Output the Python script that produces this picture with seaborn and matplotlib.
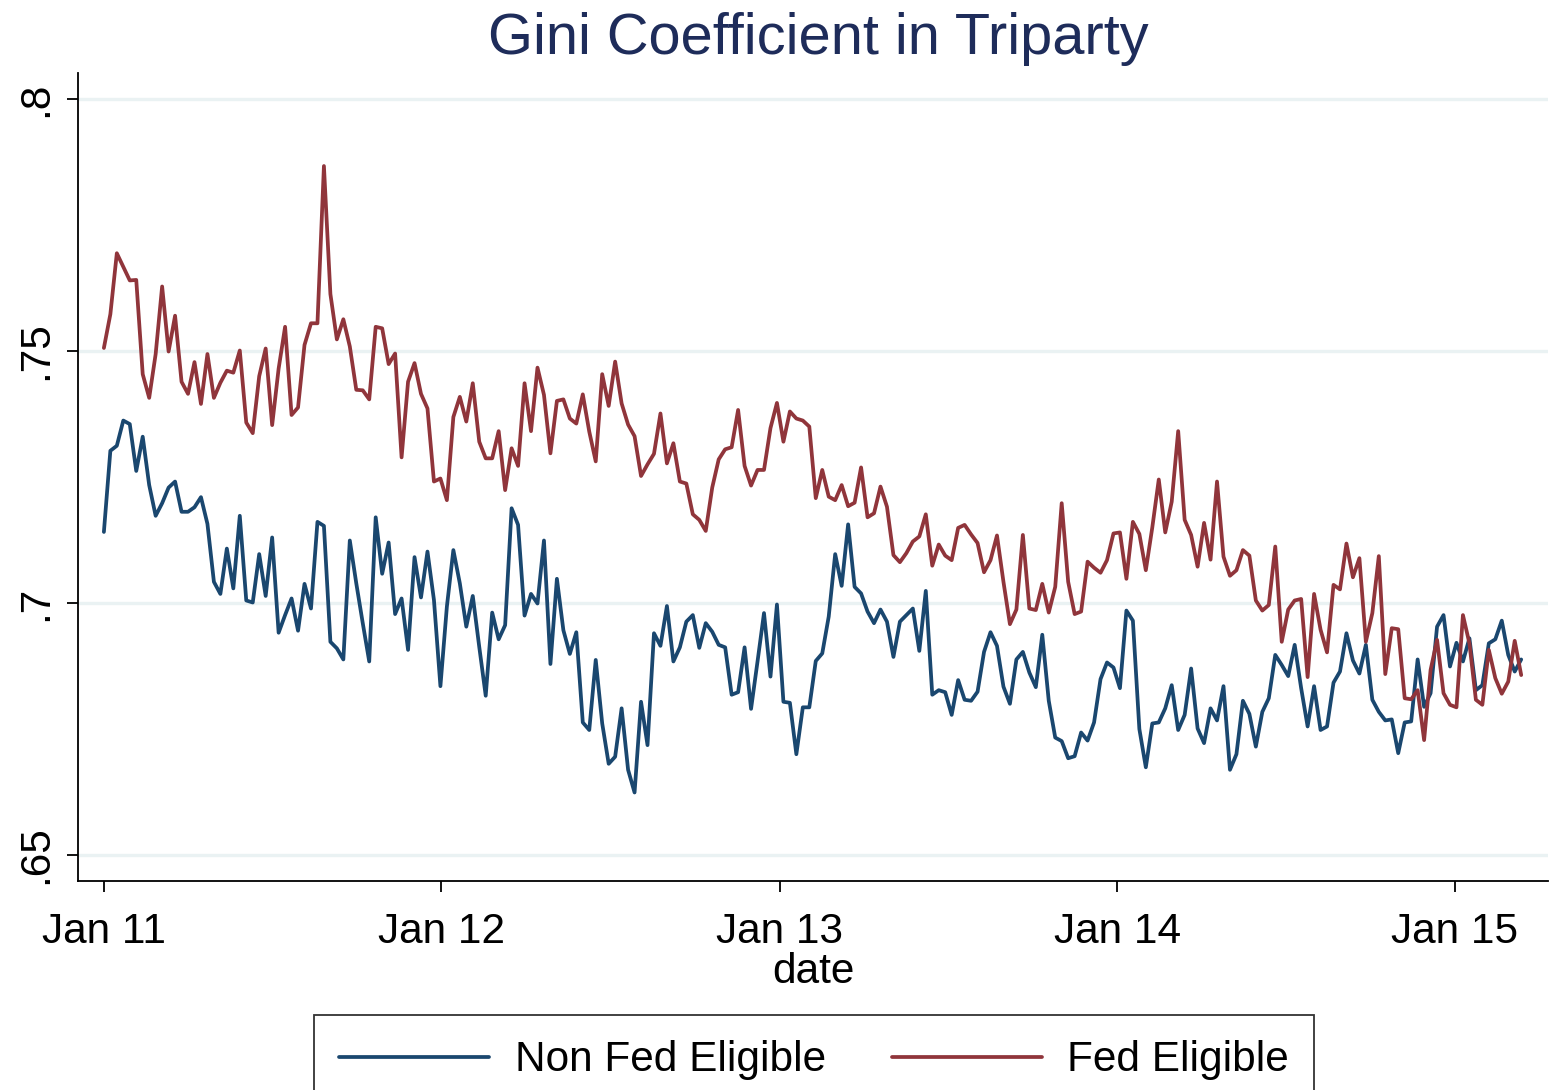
import numpy as np
import pandas as pd
import matplotlib
matplotlib.use("Agg")
import matplotlib.pyplot as plt
import matplotlib.dates as mdates
import seaborn as sns

# Weekly Gini coefficients
non_fed = [
    0.7141, 0.7302, 0.7312, 0.7362, 0.7355, 0.7262, 0.7330, 0.7234, 0.7173, 0.7198,
    0.7229, 0.7241, 0.7181, 0.7181, 0.7190, 0.7210, 0.7157, 0.7042, 0.7018, 0.7108,
    0.7029, 0.7173, 0.7005, 0.7001, 0.7097, 0.7014, 0.7130, 0.6941, 0.6976, 0.7009,
    0.6945, 0.7038, 0.6989, 0.7161, 0.7153, 0.6923, 0.6910, 0.6888, 0.7124, 0.7039,
    0.6960, 0.6884, 0.7170, 0.7058, 0.7120, 0.6978, 0.7009, 0.6907, 0.7091, 0.7011,
    0.7102, 0.7006, 0.6835, 0.6993, 0.7105, 0.7039, 0.6953, 0.7014, 0.6913, 0.6816,
    0.6981, 0.6928, 0.6956, 0.7188, 0.7155, 0.6975, 0.7018, 0.6999, 0.7124, 0.6879,
    0.7048, 0.6946, 0.6899, 0.6942, 0.6763, 0.6748, 0.6887, 0.6761, 0.6681, 0.6695,
    0.6791, 0.6669, 0.6624, 0.6804, 0.6718, 0.6940, 0.6915, 0.6994, 0.6884, 0.6912,
    0.6963, 0.6976, 0.6911, 0.6960, 0.6943, 0.6917, 0.6912, 0.6818, 0.6823, 0.6912,
    0.6790, 0.6884, 0.6980, 0.6854, 0.6997, 0.6804, 0.6802, 0.6700, 0.6793, 0.6793,
    0.6885, 0.6900, 0.6973, 0.7097, 0.7034, 0.7156, 0.7032, 0.7019, 0.6983, 0.6960,
    0.6987, 0.6963, 0.6893, 0.6963, 0.6976, 0.6989, 0.6905, 0.7024, 0.6818, 0.6827,
    0.6823, 0.6778, 0.6847, 0.6808, 0.6806, 0.6824, 0.6903, 0.6942, 0.6915, 0.6834,
    0.6800, 0.6888, 0.6903, 0.6862, 0.6833, 0.6937, 0.6806, 0.6733, 0.6726, 0.6692,
    0.6696, 0.6743, 0.6727, 0.6763, 0.6849, 0.6882, 0.6872, 0.6831, 0.6985, 0.6965,
    0.6750, 0.6674, 0.6761, 0.6763, 0.6791, 0.6837, 0.6748, 0.6778, 0.6870, 0.6751,
    0.6722, 0.6791, 0.6767, 0.6835, 0.6669, 0.6700, 0.6806, 0.6780, 0.6715, 0.6784,
    0.6811, 0.6897, 0.6877, 0.6855, 0.6917, 0.6831, 0.6755, 0.6835, 0.6748, 0.6755,
    0.6842, 0.6864, 0.6940, 0.6886, 0.6860, 0.6917, 0.6808, 0.6784, 0.6767, 0.6769,
    0.6702, 0.6763, 0.6765, 0.6888, 0.6794, 0.6821, 0.6953, 0.6976, 0.6874, 0.6921,
    0.6884, 0.6930, 0.6827, 0.6837, 0.6920, 0.6928, 0.6965, 0.6897, 0.6864, 0.6888,
]

fed = [
    0.7506, 0.7573, 0.7694, 0.7667, 0.7640, 0.7641, 0.7454, 0.7407, 0.7494, 0.7628,
    0.7499, 0.7570, 0.7439, 0.7415, 0.7478, 0.7395, 0.7494, 0.7407, 0.7437, 0.7461,
    0.7457, 0.7501, 0.7358, 0.7337, 0.7450, 0.7505, 0.7353, 0.7465, 0.7548, 0.7373,
    0.7388, 0.7512, 0.7555, 0.7555, 0.7867, 0.7613, 0.7523, 0.7563, 0.7509, 0.7423,
    0.7422, 0.7404, 0.7548, 0.7545, 0.7474, 0.7495, 0.7289, 0.7439, 0.7476, 0.7415,
    0.7386, 0.7241, 0.7247, 0.7204, 0.7369, 0.7409, 0.7360, 0.7436, 0.7320, 0.7287,
    0.7287, 0.7341, 0.7224, 0.7307, 0.7272, 0.7436, 0.7341, 0.7467, 0.7413, 0.7297,
    0.7401, 0.7404, 0.7366, 0.7356, 0.7414, 0.7340, 0.7281, 0.7454, 0.7391, 0.7479,
    0.7396, 0.7354, 0.7331, 0.7252, 0.7275, 0.7296, 0.7376, 0.7277, 0.7317, 0.7241,
    0.7237, 0.7176, 0.7165, 0.7143, 0.7229, 0.7285, 0.7305, 0.7309, 0.7383, 0.7272,
    0.7233, 0.7264, 0.7264, 0.7347, 0.7397, 0.7320, 0.7380, 0.7366, 0.7362, 0.7350,
    0.7208, 0.7264, 0.7211, 0.7204, 0.7234, 0.7192, 0.7199, 0.7269, 0.7170, 0.7178,
    0.7231, 0.7191, 0.7095, 0.7081, 0.7099, 0.7122, 0.7132, 0.7176, 0.7074, 0.7116,
    0.7094, 0.7085, 0.7149, 0.7155, 0.7136, 0.7119, 0.7061, 0.7085, 0.7134, 0.7042,
    0.6958, 0.6987, 0.7135, 0.6989, 0.6986, 0.7038, 0.6981, 0.7032, 0.7198, 0.7042,
    0.6978, 0.6983, 0.7082, 0.7070, 0.7060, 0.7085, 0.7138, 0.7140, 0.7048, 0.7161,
    0.7137, 0.7065, 0.7150, 0.7245, 0.7140, 0.7201, 0.7341, 0.7165, 0.7135, 0.7072,
    0.7159, 0.7086, 0.7241, 0.7092, 0.7054, 0.7065, 0.7105, 0.7094, 0.7005, 0.6985,
    0.6996, 0.7112, 0.6923, 0.6987, 0.7005, 0.7008, 0.6853, 0.7018, 0.6947, 0.6902,
    0.7036, 0.7027, 0.7118, 0.7051, 0.7089, 0.6923, 0.6980, 0.7093, 0.6859, 0.6950,
    0.6948, 0.6811, 0.6809, 0.6827, 0.6728, 0.6867, 0.6927, 0.6821, 0.6798, 0.6793,
    0.6976, 0.6920, 0.6808, 0.6798, 0.6907, 0.6851, 0.6820, 0.6844, 0.6925, 0.6857,
]

dates = pd.date_range("2011-01-01", periods=len(fed), freq="7D")
series_names = ["Non Fed Eligible", "Fed Eligible"]
y_ticks = [0.65, 0.70, 0.75, 0.80]
y_tick_labels = [".65", ".7", ".75", ".8"]
x_ticks = pd.to_datetime(["2011-01-01", "2012-01-01", "2013-01-01", "2014-01-01", "2015-01-01"])

df = pd.DataFrame({
    "date": np.concatenate([dates, dates]),
    "gini": non_fed + fed,
    "series": [series_names[0]] * len(non_fed) + [series_names[1]] * len(fed),
})

sns.set_style("white")
plt.rcParams["font.family"] = ["Liberation Sans", "DejaVu Sans"]
plt.rcParams["text.color"] = "black"

fig = plt.figure(figsize=(15.49, 10.90), dpi=100)
ax = fig.add_axes([78 / 1549, 1 - 881 / 1090, (1548 - 78) / 1549, (881 - 73) / 1090])

palette = {"Non Fed Eligible": "#1a476f", "Fed Eligible": "#90353b"}
sns.lineplot(data=df, x="date", y="gini", hue="series", palette=palette,
             linewidth=2.7, ax=ax, legend=False)

# Stata-like frame: left/bottom axes only, light grid on y
for s in ["top", "right"]:
    ax.spines[s].set_visible(False)
for s in ["left", "bottom"]:
    ax.spines[s].set_color("black")
    ax.spines[s].set_linewidth(1.3)

ax.set_ylim(0.65 - 26 / 5040, 0.80 + 26 / 5040)
ax.set_xlim(pd.Timestamp("2011-01-01") - pd.Timedelta(days=28),
            pd.Timestamp("2011-01-01") + pd.Timedelta(days=1562))

ax.set_yticks(y_ticks)
ax.set_yticklabels(y_tick_labels, rotation=90, va="center")
ax.yaxis.grid(True, color="#eaf2f3", linewidth=2.4)
ax.set_axisbelow(True)

ax.set_xticks(x_ticks)
ax.xaxis.set_major_formatter(mdates.DateFormatter("%b %y"))

ax.tick_params(axis="both", which="major", labelsize=30.5, length=8, width=1.3,
               direction="out", color="black", labelcolor="black",
               left=True, bottom=True)
ax.tick_params(axis="x", pad=14.5)
ax.tick_params(axis="y", pad=8)

ax.set_xlabel("date", fontsize=30.5, labelpad=0, color="black")
ax.set_ylabel("")
fig.text(818 / 1549, 1 - 54 / 1090, "Gini Coefficient in Triparty",
         fontsize=41.6, color="#1e2c5a", ha="center", va="baseline")

handles = [plt.Line2D([], [], color=palette[n], linewidth=2.7) for n in series_names]
leg = fig.legend(handles, series_names, loc="upper center", ncol=2,
                 bbox_to_anchor=(814 / 1549, 1 - 1015 / 1090),
                 fontsize=30.5, frameon=True, fancybox=False,
                 handlelength=3.55, handletextpad=0.6, columnspacing=1.55,
                 borderpad=0.6, borderaxespad=0, labelcolor="black")
leg.get_frame().set_edgecolor("black")
leg.get_frame().set_linewidth(1.3)

fig.savefig("out.png", dpi=100)
